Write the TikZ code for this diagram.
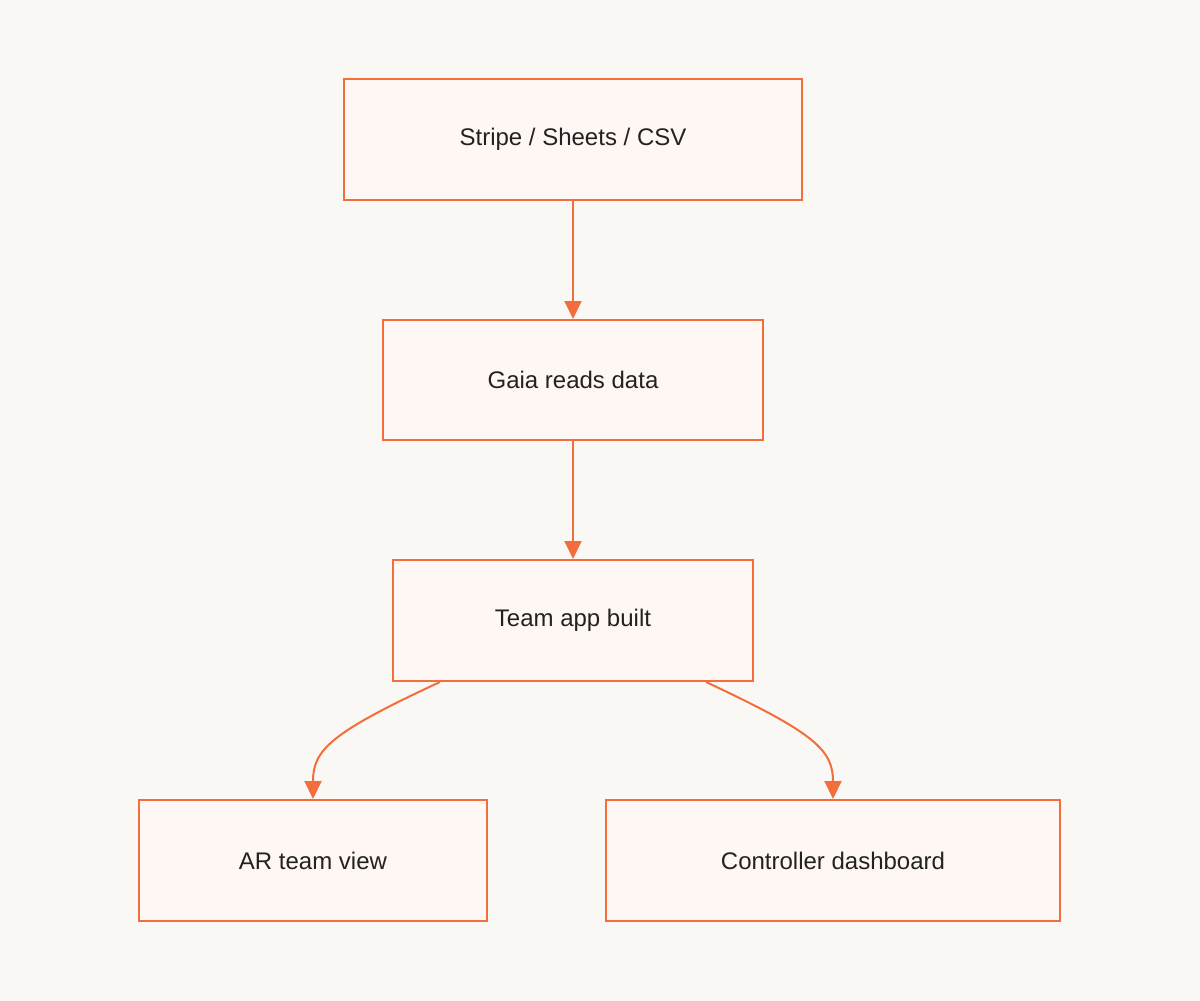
\documentclass[tikz,border=0pt]{standalone}
\usepackage{fontspec}
\setmainfont{Liberation Sans}
\usetikzlibrary{arrows.meta,calc}
\definecolor{bg}{HTML}{F9F8F4}
\definecolor{boxfill}{HTML}{FFF7F3}
\definecolor{stroke}{HTML}{F26E3D}
\definecolor{txt}{HTML}{222222}
\begin{document}
\begin{tikzpicture}[x=1pt,y=-1pt,
  box/.style={draw=stroke,fill=boxfill,line width=2pt,inner sep=0pt,text=txt,font=\fontsize{24}{28}\selectfont},
  edge/.style={draw=stroke,line width=2pt,-{Triangle[length=18pt,width=17pt]}}]
\fill[bg] (0,0) rectangle (1200,1001);
\useasboundingbox (0,0) rectangle (1200,1001);
\node[box,minimum width=458pt,minimum height=121pt] (n1) at (573,139.5) {Stripe / Sheets / CSV};
\node[box,minimum width=380pt,minimum height=120pt] (n2) at (573,380) {Gaia reads data};
\node[box,minimum width=360pt,minimum height=121pt] (n3) at (573,620.5) {Team app built};
\node[box,minimum width=348pt,minimum height=121pt] (n4) at (313,860.5) {AR team view};
\node[box,minimum width=454pt,minimum height=121pt] (n5) at (833,860.5) {Controller dashboard};
\draw[edge] (n1) -- (n2);
\draw[edge] (n2) -- (n3);
\coordinate (a) at ($(n3.south west)+(48,0)$);
\coordinate (b) at ($(n3.south east)+(-48,0)$);
\draw[edge] (a) .. controls (330,733) and (313,750) .. (n4.north);
\draw[edge] (b) .. controls (815,733) and (833,750) .. (n5.north);
\end{tikzpicture}
\end{document}
